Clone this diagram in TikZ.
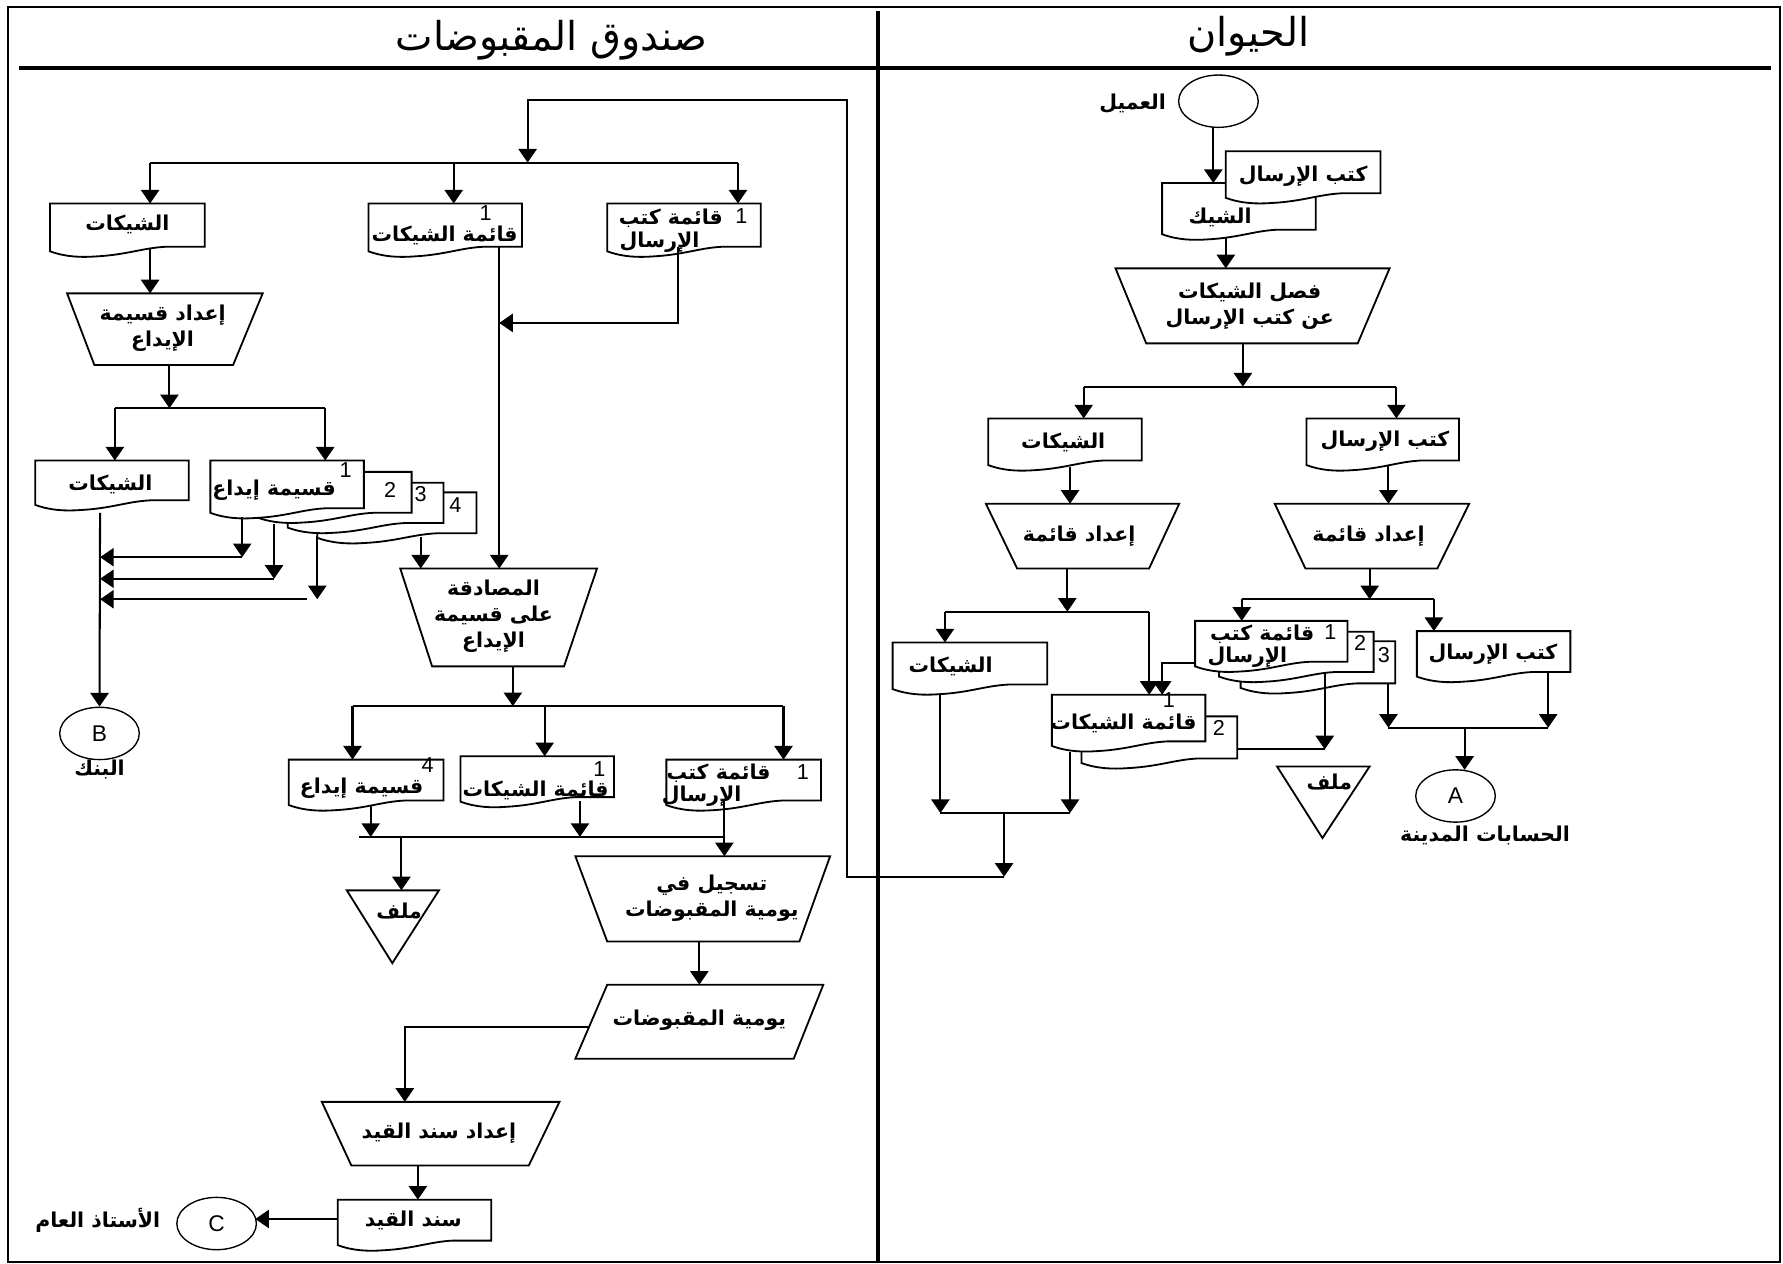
\documentclass[tikz,border=0pt]{standalone}
\usepackage{fontspec}
\setmainfont{Liberation Sans}
\newfontfamily\arabicfont[Script=Arabic]{DejaVu Sans}
\TeXXeTstate=1
\usetikzlibrary{arrows.meta,shapes.geometric}
\newcommand{\ar}[1]{{\arabicfont\bfseries\beginR #1\endR}}
\newcommand{\artitle}[1]{{\arabicfont\beginR #1\endR}}
\newcommand{\docbox}[4]{\filldraw[shp] (#1,#2) -- (#3,#2) -- (#3,#4) -- ({#1+0.75*(#3-#1)},#4) .. controls ({#1+0.6*(#3-#1)},{#4+1}) and ({#1+0.5*(#3-#1)},{#4+7}) .. ({#1+0.3*(#3-#1)},{#4+8.5}) .. controls ({#1+0.2*(#3-#1)},{#4+9.5}) and ({#1+0.1*(#3-#1)},{#4+9}) .. (#1,{#4+4}) -- cycle;}
\newcommand{\trapz}[6]{\filldraw[shp] (#1,#3) -- (#2,#3) -- (#5,#6) -- (#4,#6) -- cycle;}
\tikzset{
  ln/.style={line width=0.9pt},
  arr/.style={line width=0.9pt,-{Triangle[width=8pt,length=6pt]}},
  shp/.style={line width=0.8pt,fill=white,draw=black},
  txt/.style={inner sep=0pt,font=\fontsize{9}{11.5}\selectfont,align=center},
  num/.style={inner sep=0pt,font=\fontsize{9.5}{10}\selectfont},
  conn/.style={ellipse,draw,line width=0.6pt,fill=white,inner sep=0pt,minimum width=35pt,minimum height=23pt,font=\fontsize{10}{10}\selectfont},
  ttl/.style={inner sep=0pt,font=\fontsize{17.5}{20}\selectfont},
}
\begin{document}
\begin{tikzpicture}[x=0.5pt,y=-0.5pt]
\useasboundingbox (0,0) rectangle (1568,1111);
% frame and lanes
\draw[line width=0.8pt] (7,6) rectangle (1565,1110);
\draw[line width=1.8pt] (17,60) -- (1557,60);
\draw[line width=1.8pt] (772,10) -- (772,1111);
\node[ttl] (t1) at (485,35) {\artitle{صندوق المقبوضات}};
\node[ttl] (t2) at (1098,32) {\artitle{الحيوان}};

% ================= LEFT LANE shapes =================
\docbox{44}{179}{180}{217}
\docbox{324}{179}{459}{217}
\docbox{534}{179}{669}{217}
\trapz{59}{231}{258}{83}{205}{321}
\docbox{31}{405}{166}{440}
\docbox{279}{433}{419}{469}
\docbox{253}{424.5}{390}{460}
\docbox{226}{415}{362}{451}
\docbox{185}{405}{320}{447}
\trapz{352}{525}{500}{380}{496}{586}
\docbox{254}{668}{390}{704}
\docbox{405}{665}{540}{701}
\docbox{586}{668}{722}{704}
\filldraw[shp] (305,783) -- (386,783) -- (345,847) -- cycle;
\trapz{506}{730}{753}{534}{703}{828}
\filldraw[shp] (534,866) -- (724,866) -- (698,931) -- (506,931) -- cycle;
\trapz{283}{492}{969}{309}{465}{1025}
\docbox{297}{1055}{432}{1091}
\node[conn] (B) at (87.5,645) {B};
\node[conn] (C) at (190.5,1076) {C};

% ================= RIGHT LANE shapes =================
\node[conn] (cust) at (1071.5,89) {};
\docbox{1022}{161}{1157}{202}
\docbox{1078}{133}{1214}{170}
\trapz{981}{1222}{236}{1008}{1194}{302}
\docbox{869}{368}{1004}{405}
\docbox{1149}{368}{1283}{405}
\trapz{867}{1037}{443}{894.5}{1010.5}{500}
\trapz{1121}{1292}{443}{1148}{1264}{500}
\docbox{785}{565}{921}{602}
\docbox{951}{630}{1088}{667}
\docbox{925}{611}{1060}{652}
\docbox{1091}{564}{1227}{601}
\docbox{1072}{555.5}{1208}{591}
\docbox{1051}{546}{1185}{582}
\docbox{1246}{555}{1381}{591}
\filldraw[shp] (1123,674) -- (1204.5,674) -- (1163,737) -- cycle;
\node[conn] (A) at (1280,700) {A};

% ================= coordinates =================
% left lane
\coordinate (lTop) at (464,88);
\coordinate (lJ0) at (464,143);
\coordinate (lB1) at (132,143);
\coordinate (lB2) at (399,143);
\coordinate (lB3) at (649,143);
\coordinate (lD1t) at (132,179);
\coordinate (lD2t) at (399,179);
\coordinate (lD3t) at (649,179);
\coordinate (lD1b) at (132,218);
\coordinate (lT1t) at (132,258);
\coordinate (lD2b) at (439,217);
\coordinate (lT2t) at (439,500);
\coordinate (lD3b) at (596,217);
\coordinate (lD3c) at (596,284);
\coordinate (lD3e) at (439,284);
\coordinate (lT1b) at (149,321);
\coordinate (lJ1) at (149,359);
\coordinate (lJ1a) at (101,359);
\coordinate (lJ1b) at (286,359);
\coordinate (lD4t) at (101,405);
\coordinate (lS1t) at (286,405);
\coordinate (lD4b) at (88,451);
\coordinate (lS1b) at (213,455);
\coordinate (lS1j) at (213,490);
\coordinate (lM1) at (88,490);
\coordinate (lS2b) at (241,461);
\coordinate (lS2j) at (241,509);
\coordinate (lM2) at (88,509);
\coordinate (lS3b) at (279,471);
\coordinate (lS3j) at (279,527);
\coordinate (lS3h) at (270,527);
\coordinate (lM3) at (88,527);
\coordinate (lS4b) at (370,472);
\coordinate (lS4e) at (370,500);
\coordinate (lT2b) at (451,586);
\coordinate (lJ2) at (451,621);
\coordinate (lJ2a) at (310,621);
\coordinate (lJ2b) at (479,621);
\coordinate (lJ2c) at (689,621);
\coordinate (lD5t) at (310,668);
\coordinate (lD6t) at (479,665);
\coordinate (lD7t) at (689,668);
\coordinate (lD5b) at (326,708);
\coordinate (lD5j) at (326,736);
\coordinate (lD6b) at (510,704);
\coordinate (lD6j) at (510,736);
\coordinate (lD7b) at (637,704);
\coordinate (lJ3a) at (316,736);
\coordinate (lJ3b) at (637,736);
\coordinate (lJ3f) at (353,736);
\coordinate (lFt) at (353,783);
\coordinate (lT3t) at (637,753);
\coordinate (lT3b) at (615,828);
\coordinate (lPt) at (615,866);
\coordinate (lPl) at (518,903);
\coordinate (lPc) at (356,903);
\coordinate (lT4t) at (356,969);
\coordinate (lT4b) at (367.5,1025);
\coordinate (lD8t) at (367.5,1055);
\coordinate (lD8l) at (297,1072);
\coordinate (lCe) at (224.5,1072);
% loop between lanes
\coordinate (loopT) at (745,88);
\coordinate (loopB) at (745,771);
\coordinate (rEnd) at (883,771);
% right lane
\coordinate (rC) at (1067,112);
\coordinate (rD0t) at (1067,161);
\coordinate (rD0b) at (1078,208);
\coordinate (rT0t) at (1078,236);
\coordinate (rT0b) at (1093,302);
\coordinate (rJ0) at (1093,340);
\coordinate (rJ0a) at (953,340);
\coordinate (rJ0b) at (1228,340);
\coordinate (rD1t) at (953,368);
\coordinate (rD2t) at (1228,368);
\coordinate (rD1b) at (941,411);
\coordinate (rT1t) at (941,443);
\coordinate (rD2b) at (1221,410);
\coordinate (rT2t) at (1221,443);
\coordinate (rT1b) at (938.6,500);
\coordinate (rJ1) at (938.6,538);
\coordinate (rJ1a) at (831,538);
\coordinate (rJ1b) at (1010.6,538);
\coordinate (rD3t) at (831,565);
\coordinate (rQt) at (1010.6,611);
\coordinate (rT2b) at (1204.5,500);
\coordinate (rJ2) at (1204.5,527);
\coordinate (rJ2a) at (1092,527);
\coordinate (rJ2b) at (1261,527);
\coordinate (rKt) at (1092,546);
\coordinate (rD4t) at (1261,555);
\coordinate (rKl) at (1051,583);
\coordinate (rKc) at (1022,583);
\coordinate (rQt2) at (1022,611);
\coordinate (rKb) at (1165,592);
\coordinate (rKj) at (1165,659);
\coordinate (rQr) at (1088,659);
\coordinate (rK3b) at (1221,601);
\coordinate (rK3j) at (1221,640);
\coordinate (rD4b) at (1361.5,591);
\coordinate (rD4j) at (1361.5,640);
\coordinate (rJ3) at (1288,640);
\coordinate (rAt) at (1288,677);
\coordinate (rD3b) at (827,610);
\coordinate (rD3j) at (827,715);
\coordinate (rQb) at (941,661);
\coordinate (rQj) at (941,715);
\coordinate (rJ4) at (883,715);

% ================= connectors =================
% loop from right lane to left lane
\draw[arr] (rJ4) -- (rEnd);
\draw[arr] (rEnd) -- (loopB) -- (loopT) -- (lTop) -- (lJ0);
\draw[ln] (lB1) -- (lB3);
\draw[arr] (lB1) -- (lD1t);
\draw[arr] (lB2) -- (lD2t);
\draw[arr] (lB3) -- (lD3t);
\draw[arr] (lD1b) -- (lT1t);
\draw[arr] (lD2b) -- (lT2t);
\draw[arr] (lD3b) -- (lD3c) -- (lD3e);
\draw[arr] (lT1b) -- (lJ1);
\draw[ln] (lJ1a) -- (lJ1b);
\draw[arr] (lJ1a) -- (lD4t);
\draw[arr] (lJ1b) -- (lS1t);
\draw[arr] (lD4b) -- (B.north);
\draw[arr] (lS1b) -- (lS1j);
\draw[arr] (lS1j) -- (lM1);
\draw[arr] (lS2b) -- (lS2j);
\draw[arr] (lS2j) -- (lM2);
\draw[arr] (lS3b) -- (lS3j);
\draw[arr] (lS3h) -- (lM3);
\draw[arr] (lS4b) -- (lS4e);
\draw[arr] (lT2b) -- (lJ2);
\draw[ln] (lJ2a) -- (lJ2c);
\draw[arr] (lJ2a) -- (lD5t);
\draw[arr] (lJ2b) -- (lD6t);
\draw[arr] (lJ2c) -- (lD7t);
\draw[arr] (lD5b) -- (lD5j);
\draw[arr] (lD6b) -- (lD6j);
\draw[ln] (lJ3a) -- (lJ3b);
\draw[arr] (lD7b) -- (lT3t);
\draw[arr] (lJ3f) -- (lFt);
\draw[arr] (lT3b) -- (lPt);
\draw[arr] (lPl) -- (lPc) -- (lT4t);
\draw[arr] (lT4b) -- (lD8t);
\draw[arr] (lD8l) -- (lCe);
% right lane
\draw[arr] (rC) -- (rD0t);
\draw[arr] (rD0b) -- (rT0t);
\draw[arr] (rT0b) -- (rJ0);
\draw[ln] (rJ0a) -- (rJ0b);
\draw[arr] (rJ0a) -- (rD1t);
\draw[arr] (rJ0b) -- (rD2t);
\draw[arr] (rD1b) -- (rT1t);
\draw[arr] (rD2b) -- (rT2t);
\draw[arr] (rT1b) -- (rJ1);
\draw[ln] (rJ1a) -- (rJ1b);
\draw[arr] (rJ1a) -- (rD3t);
\draw[arr] (rJ1b) -- (rQt);
\draw[arr] (rT2b) -- (rJ2);
\draw[ln] (rJ2a) -- (rJ2b);
\draw[arr] (rJ2a) -- (rKt);
\draw[arr] (rJ2b) -- (rD4t);
\draw[arr] (rKl) -- (rKc) -- (rQt2);
\draw[arr] (rKb) -- (rKj);
\draw[ln] (rQr) -- (rKj);
\draw[arr] (rK3b) -- (rK3j);
\draw[arr] (rD4b) -- (rD4j);
\draw[ln] (rK3j) -- (rD4j);
\draw[arr] (rJ3) -- (rAt);
\draw[arr] (rD3b) -- (rD3j);
\draw[arr] (rQb) -- (rQj);
\draw[ln] (rD3j) -- (rQj);

% ================= texts: left lane =================
\node[txt] (x1) at (112,197) {\ar{الشيكات}};
\node[txt] (x2) at (391,207) {\ar{قائمة الشيكات}};
\node[num] (n2) at (427,187) {1};
\node[txt] (x3a) at (590,192) {\ar{قائمة كتب}};
\node[txt] (x3b) at (580,213) {\ar{الإرسال}};
\node[num] (n3) at (652,190) {1};
\node[txt] (x4) at (143,289) {\ar{إعداد قسيمة}\\\ar{الإيداع}};
\node[txt] (x5) at (97,426) {\ar{الشيكات}};
\node[txt] (x6) at (241,431) {\ar{قسيمة إيداع}};
\node[num] (n6a) at (304,413) {1};
\node[num] (n6b) at (343,431) {2};
\node[num] (n6c) at (370,434.5) {3};
\node[num] (n6d) at (400.5,444) {4};
\node[txt] (x7) at (434,542) {\ar{المصادقة}\\\ar{على قسيمة}\\\ar{الإيداع}};
\node[txt] (x8) at (87.5,677) {\ar{البنك}};
\node[txt] (x9) at (318,693) {\ar{قسيمة إيداع}};
\node[num] (n9) at (376,673) {4};
\node[txt] (x10) at (471,695) {\ar{قائمة الشيكات}};
\node[num] (n10) at (527,676) {1};
\node[txt] (x11a) at (632,680) {\ar{قائمة كتب}};
\node[txt] (x11b) at (617,700) {\ar{الإرسال}};
\node[num] (n11) at (706,679) {1};
\node[txt] (x12) at (351,801) {\ar{ملف}};
\node[txt] (x13) at (626,790) {\ar{تسجيل في}\\\ar{يومية المقبوضات}};
\node[txt] (x14) at (615,897) {\ar{يومية المقبوضات}};
\node[txt] (x15) at (386,997) {\ar{إعداد سند القيد}};
\node[txt] (x16) at (363.5,1073) {\ar{سند القيد}};
\node[txt] (x17) at (86,1073) {\ar{الأستاذ العام}};

% ================= texts: right lane =================
\node[txt] (y1) at (996,91) {\ar{العميل}};
\node[txt] (y2) at (1146,155) {\ar{كتب الإرسال}};
\node[txt] (y3) at (1073,191) {\ar{الشيك}};
\node[txt] (y4) at (1099,269) {\ar{فصل الشيكات}\\\ar{عن كتب الإرسال}};
\node[txt] (y5) at (935,389) {\ar{الشيكات}};
\node[txt] (y6) at (1218,388) {\ar{كتب الإرسال}};
\node[txt] (y7) at (949,472) {\ar{إعداد قائمة}};
\node[txt] (y8) at (1203.5,472) {\ar{إعداد قائمة}};
\node[txt] (y9) at (836,586) {\ar{الشيكات}};
\node[txt] (y10) at (988,636) {\ar{قائمة الشيكات}};
\node[num] (m10a) at (1028,616) {1};
\node[num] (m10b) at (1072,640.6) {2};
\node[txt] (y11a) at (1110,558) {\ar{قائمة كتب}};
\node[txt] (y11b) at (1097,578) {\ar{الإرسال}};
\node[num] (m11a) at (1170,556) {1};
\node[num] (m11b) at (1196,565) {2};
\node[num] (m11c) at (1217,576) {3};
\node[txt] (y12) at (1313,575) {\ar{كتب الإرسال}};
\node[txt] (y13) at (1169,688) {\ar{ملف}};
\node[txt] (y14) at (1306,735) {\ar{الحسابات المدينة}};
\end{tikzpicture}
\end{document}
